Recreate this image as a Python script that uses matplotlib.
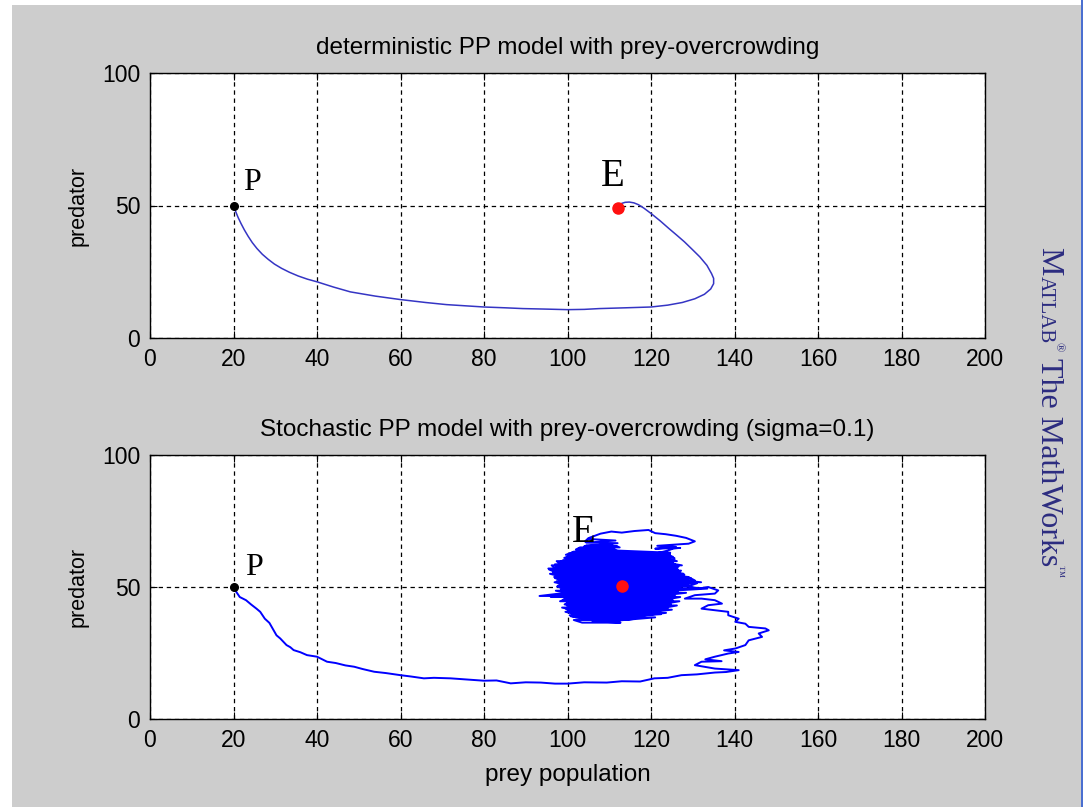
import matplotlib
matplotlib.use("Agg")
import matplotlib.pyplot as plt
from matplotlib.patches import Rectangle

# deterministic trajectory
det_x = [20, 20.5, 21.1, 21.8, 22.6, 23.5, 24.5, 25.6, 26.9, 28.3, 29.8, 31.5, 33.4, 35.5,
         37.7, 40, 44, 48, 54, 60, 66, 71, 76, 80, 85, 89.3, 95, 100, 104, 107.6, 114,
         120, 124, 127.5, 130.5, 132.8, 134.3, 135.0, 135.0, 134.5, 133.4, 131.7, 129.9,
         128.0, 126.1, 124.3, 122.2, 120.0, 118.3, 117.0, 115.9, 114.8, 113.8, 113.0,
         112.4, 112.0]
det_y = [50, 47.8, 45.5, 43.2, 40.8, 38.4, 36.0, 33.8, 31.6, 29.7, 27.9, 26.3, 24.8, 23.4,
         22.2, 21.2, 19.2, 17.4, 15.8, 14.5, 13.4, 12.6, 12.1, 11.7, 11.4, 11.1, 10.9,
         10.7, 10.8, 11.1, 11.4, 11.7, 12.4, 13.4, 14.8, 16.5, 18.5, 20.5, 22.5, 24.3,
         27.4, 30.6, 33.4, 36.3, 38.9, 41.3, 44.2, 47.0, 49.0, 50.3, 51.0, 51.3, 51.2,
         50.8, 50.1, 49.3]

# stochastic trajectory: descent from P and the long bottom run
sto_x = [20, 20.6, 21.5, 23.0, 24.2, 25.5, 26.4, 27.5, 28.6, 30.3, 31.2, 32.7, 33.6, 34.4,
         36.0, 37.6, 40.0, 42.4, 44.5, 46.8, 48.9, 51.0, 53.7, 56.5, 60.0, 62.5, 65.6, 68.0,
         72.0, 75.5, 80.0, 83.0, 86.4, 90.0, 93.6, 97.0, 100.0, 104.0, 109.4, 113.0, 117.4,
         120.8, 124.0, 127.3, 131.0, 135.3, 138.0, 141.0]
sto_y = [50, 48.3, 46.2, 45.0, 43.4, 41.8, 40.6, 38.0, 36.4, 31.7, 30.5, 28.0, 27.2, 26.1,
         25.3, 24.2, 23.6, 21.7, 21.2, 20.3, 19.8, 18.9, 17.9, 17.4, 16.6, 16.1, 15.4, 15.6,
         15.4, 15.0, 14.5, 14.6, 13.5, 13.9, 13.8, 13.4, 13.4, 13.9, 13.8, 14.3, 14.2,
         15.4, 15.6, 16.6, 16.9, 17.6, 17.8, 18.5]

# stochastic trajectory: ragged climb on the right back towards E
tail_x = [135.3, 130.5, 132.1, 136.9, 133.0, 135.3, 138.5, 141.0, 137.5, 140.2, 142.6,
          143.4, 146.6, 145.8, 148.2, 147.4, 143.4, 142.6, 140.2, 141.0, 138.5, 138.5,
          135.3, 132.1, 133.7, 137.0, 135.3, 132.1, 128.1, 130.5, 135.3, 136.1, 133.7,
          131.3, 128.9, 127.3, 130.5, 128.9, 125.6]
tail_y = [19.1, 20.4, 21.7, 21.9, 22.6, 23.6, 24.8, 25.4, 26.0, 26.7, 28.0,
          29.8, 31.1, 32.4, 33.6, 34.3, 34.9, 36.1, 36.8, 38.0, 39.3, 40.6,
          41.2, 41.8, 43.1, 43.7, 45.0, 45.6, 45.6, 46.9, 47.5, 48.7, 50.0,
          49.4, 50.4, 51.9, 52.5, 53.8, 54.4]

# dense cloud around E, first pass of rows (y, left edge, right edge)
rowa_y = [36.5, 37.5, 38.5, 39.3, 40.2, 41.0, 41.8, 42.6, 43.4, 44.2, 45.0, 45.8, 46.6,
          47.4, 48.2, 49.0, 49.8, 50.6, 51.4, 52.2, 53.0, 53.8, 54.6, 55.4, 56.2, 57.0,
          57.8, 58.6, 59.4, 60.2, 61.0, 61.8, 62.6, 63.4, 64.2, 65.0, 65.8]
rowa_l = [103.5, 101.5, 102.0, 100.5, 101.2, 100.0, 99.6, 100.8, 99.3, 100.2, 98.8, 99.5,
          93.3, 97.5, 99.0, 98.4, 99.2, 97.8, 98.6, 97.4, 98.0, 96.8, 97.6, 96.5, 97.2,
          95.4, 97.5, 97.0, 98.2, 99.0, 99.2, 100.5, 100.5, 101.5, 102.0, 103.0, 104.5]
rowa_r = [112.7, 113.5, 121.0, 118.5, 123.6, 121.8, 124.0, 122.6, 124.8, 123.2, 125.2,
          124.0, 125.8, 124.6, 126.4, 125.5, 127.0, 129.5, 131.0, 130.2, 128.4, 127.3,
          128.0, 126.5, 127.2, 126.0, 126.6, 125.7, 125.0, 125.6, 125.6, 124.6, 124.5,
          112.5, 111.0, 112.5, 110.5]

# dense cloud around E, second pass of rows
rowb_y = [37.0, 37.9, 38.9, 39.7, 40.6, 41.4, 42.2, 43.0, 43.8, 44.6, 45.4, 46.2, 47.0,
          47.8, 48.6, 49.4, 50.2, 51.0, 51.8, 52.6, 53.4, 54.2, 55.0, 55.8, 56.6, 57.4,
          58.2, 59.0, 59.8, 60.6, 61.4, 62.2, 63.0, 63.8, 64.6, 65.4]
rowb_l = [106.0, 104.5, 100.8, 101.8, 99.5, 101.0, 98.7, 99.8, 100.5, 98.2, 99.9, 96.0,
          98.6, 99.4, 97.2, 98.9, 97.5, 99.0, 96.9, 98.3, 97.0, 97.8, 95.8, 96.9, 95.6,
          96.8, 96.2, 98.0, 97.4, 99.6, 100.0, 99.6, 101.0, 102.2, 102.8, 104.0]
rowb_r = [110.5, 116.0, 114.5, 122.4, 120.0, 125.0, 123.4, 126.2, 123.8, 126.8, 124.1,
          127.0, 123.9, 128.4, 125.0, 133.5, 129.6, 127.6, 132.0, 127.0, 129.5, 126.0,
          127.8, 125.2, 126.5, 125.0, 127.4, 124.5, 126.2, 123.6, 125.3, 124.0, 124.6,
          112.0, 110.8, 112.0]

# loose loop above the cloud
loop_x = [106.5, 112.0, 104.5, 111.5, 105.0, 104.2, 105.0, 107.9, 110.5, 113.0, 116.0,
          119.4, 121.0, 123.5, 126.0, 128.4, 130.5, 129.0, 127.0, 121.5, 126.0, 121.0,
          127.0, 125.4, 124.0, 122.0, 120.5, 116.0, 113.0, 112.0, 114.5, 117.0, 113.0]
loop_y = [65.8, 66.6, 66.8, 67.6, 68.2, 67.2, 68.5, 70.2, 71.0, 70.6, 71.2,
          71.6, 70.4, 70.0, 69.4, 68.6, 67.3, 66.4, 66.2, 65.6, 65.2, 64.5,
          64.8, 64.6, 63.8, 63.0, 62.6, 63.2, 62.4, 60.8, 57.5, 54.0, 51.0]

P_pt = (20, 50)
E_det = (112, 49)
E_sto = (113, 50.5)

xticks = [0, 20, 40, 60, 80, 100, 120, 140, 160, 180, 200]
yticks = [0, 50, 100]


def rows_to_path(ys, ls, rs):
    # sweep the rows back and forth like the streaks of the noisy path
    px, py = [], []
    for i, (yy, l, r) in enumerate(zip(ys, ls, rs)):
        px += [l, r] if i % 2 == 0 else [r, l]
        py += [yy, yy]
    return px, py


ax_a, ay_a = rows_to_path(rowa_y[::-1], rowa_l[::-1], rowa_r[::-1])
ax_b, ay_b = rows_to_path(rowb_y, rowb_l, rowb_r)
path_x = sto_x + tail_x + ax_a + ax_b + loop_x
path_y = sto_y + tail_y + ay_a + ay_b + loop_y

W, H = 1086, 807
fig = plt.figure(figsize=(W / 100, H / 100), dpi=100)
fig.patch.set_facecolor('white')
fig.patches.append(Rectangle((12 / W, 0), (1081 - 12) / W, 1 - 5 / H,
                             transform=fig.transFigure, facecolor='#cdcdcd',
                             edgecolor='none', zorder=-10))
fig.patches.append(Rectangle((1081 / W, 0), 2 / W, 1, transform=fig.transFigure,
                             facecolor='#4a6fd0', edgecolor='none', zorder=-9))

sans = ['Liberation Sans', 'DejaVu Sans']
serif = ['Liberation Serif', 'DejaVu Serif']

ax1 = fig.add_axes([150 / W, 1 - 338 / H, 835 / W, 265 / H])
ax2 = fig.add_axes([150 / W, 1 - 719 / H, 835 / W, 264 / H])

for ax in (ax1, ax2):
    ax.set_xlim(0, 200)
    ax.set_ylim(0, 100)
    ax.set_xticks(xticks)
    ax.set_yticks(yticks)
    ax.grid(True, color='black', linestyle=(0, (3.5, 3)), linewidth=0.9)
    ax.tick_params(direction='in', length=5, width=0.8, top=True, right=True,
                   labelsize=16.5, pad=7)
    for lab in ax.get_xticklabels() + ax.get_yticklabels():
        lab.set_family(sans)
    for s in ax.spines.values():
        s.set_linewidth(1.0)
    ax.set_ylabel('predator', fontsize=15.5, family=sans, labelpad=10)

ax1.plot(det_x, det_y, color='#3535c4', linewidth=1.1)
ax1.plot(*P_pt, 'o', color='black', markersize=5.5)
ax1.plot(*E_det, 'o', color='#ff1010', markersize=8)
ax1.text(22.3, 55.8, 'P', fontsize=23, family=serif)
ax1.text(108, 57.4, 'E', fontsize=28, family=serif)
ax1.set_title('deterministic PP model with prey-overcrowding', fontsize=17.5,
              family=sans, pad=14)

ax2.plot(path_x, path_y, color='#0000ff', linewidth=1.4)
ax2.plot(*P_pt, 'o', color='black', markersize=5.5)
ax2.plot(*E_sto, 'o', color='#ff1010', markersize=8)
ax2.text(22.8, 54.5, 'P', fontsize=23, family=serif)
ax2.text(101, 67, 'E', fontsize=28, family=serif)
ax2.set_title('Stochastic PP model with prey-overcrowding (sigma=0.1)', fontsize=17.5,
              family=sans, pad=14)
ax2.set_xlabel('prey population', fontsize=17.5, family=sans, labelpad=9)

# vertical MATLAB watermark on the right
wm = dict(rotation=270, rotation_mode='anchor', ha='left', va='baseline',
          color='#2c2c80', family=serif, transform=fig.transFigure)
fig.text(1041 / W, 1 - 247 / H, 'M', fontsize=23, **wm)
fig.text(1041 / W, 1 - 276 / H, 'ATLAB', fontsize=15, **wm)
fig.text(1055 / W, 1 - 342 / H, '\u00ae', fontsize=9, **wm)
fig.text(1041 / W, 1 - 358 / H, 'The MathWorks', fontsize=23, **wm)
fig.text(1055 / W, 1 - 565 / H, '\u2122', fontsize=9, **wm)

fig.savefig('out.png', dpi=100, facecolor=fig.get_facecolor())
